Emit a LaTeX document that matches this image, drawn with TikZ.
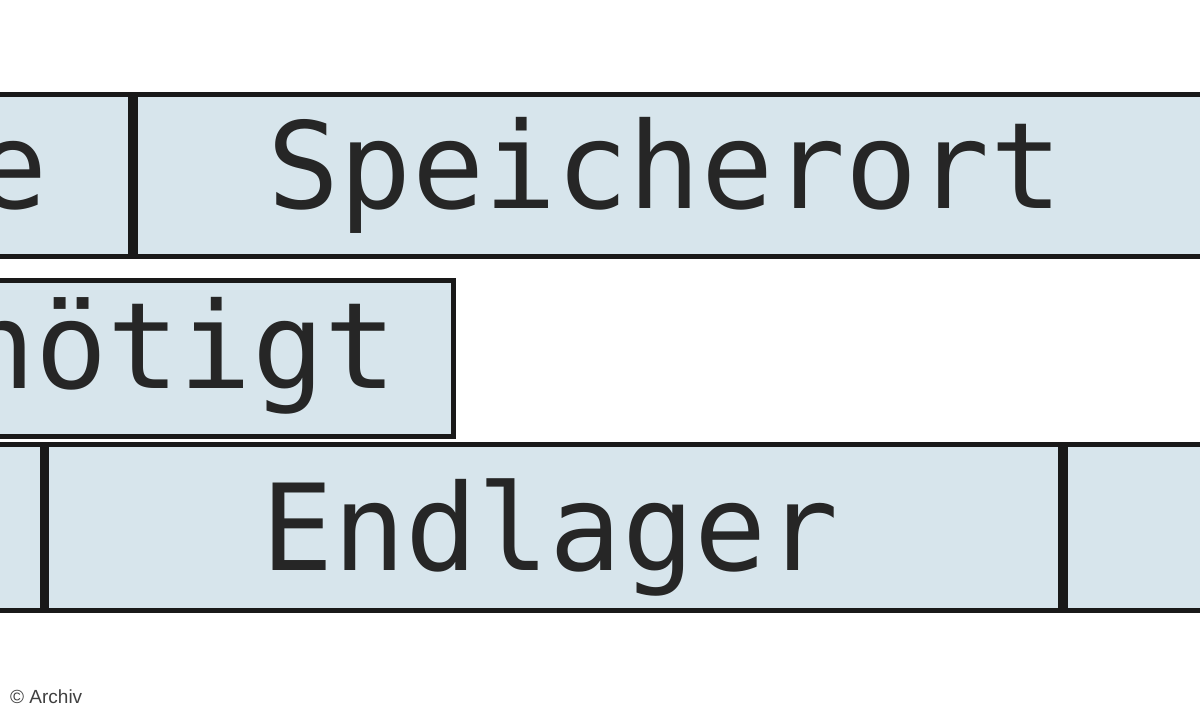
\documentclass[tikz,border=0pt]{standalone}
\usepackage{fontspec}
\newfontfamily\monof{DejaVu Sans Mono}
\newfontfamily\sansf{Liberation Sans}
\definecolor{boxfill}{HTML}{D7E5EC}
\begin{document}
\begin{tikzpicture}[x=1pt,y=-1pt,
  cell/.style={draw=black!90,line width=5pt,fill=boxfill},
  lbl/.style={font=\monof\fontsize{120}{120}\selectfont,text=black!85,anchor=base,inner sep=0pt}]
\useasboundingbox (0,0) rectangle (1200,720);
\clip (0,0) rectangle (1200,720);
\fill[white] (0,0) rectangle (1200,720);
% row 1
\draw[cell] (-20,94) rectangle (130,256);
\draw[cell] (135,94) rectangle (1230,256);
\node[lbl] (t1) at (12,208) {e};
\node[lbl] (t2) at (665,208) {Speicherort};
% row 2
\draw[cell] (-20,280) rectangle (453,436);
\node[lbl] (t3) at (180,388) {nötigt};
% row 3
\draw[cell] (-20,444) rectangle (42,610);
\draw[cell] (46,444) rectangle (1060,610);
\draw[cell] (1065,444) rectangle (1230,610);
\node[lbl] (t4) at (550,570) {Endlager};
\node[font=\sansf\fontsize{19}{19}\selectfont,text=black!75,anchor=west,inner sep=0pt] (c) at (10,697) {© Archiv};
\end{tikzpicture}
\end{document}
